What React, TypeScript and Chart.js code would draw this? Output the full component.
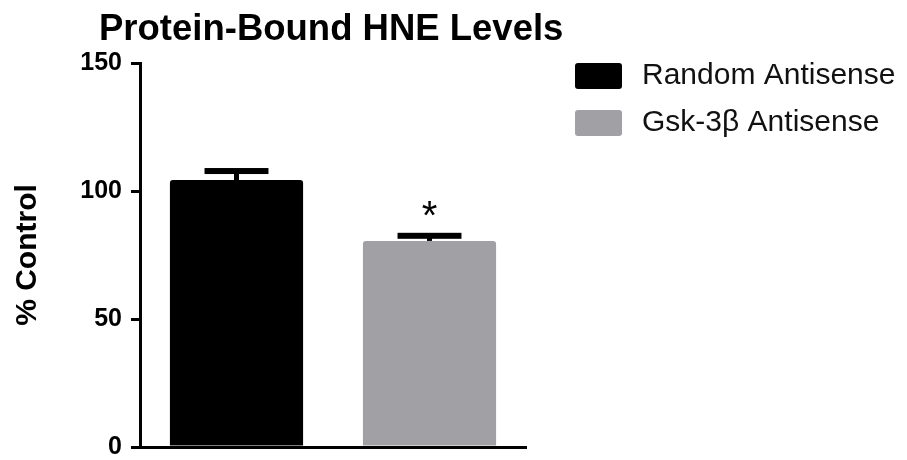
import React, { useEffect, useRef } from 'react';
import { Chart, registerables } from 'chart.js';

Chart.register(...registerables);

const chartTitle = 'Protein-Bound HNE Levels';
const categories = ['Random Antisense', 'Gsk-3β Antisense'];
const means = [104.3, 80.5];
const sems = [3.5, 2.0];
const significance = ['', '*'];
const barColors = ['#000000', '#a1a0a5'];
const yTicks = [0, 50, 100, 150];
const yLabel = '% Control';

const FONT = "'Liberation Sans', Arial, Helvetica, sans-serif";

const overlayPlugin = {
  id: 'overlay',
  afterDatasetsDraw(chart: any) {
    const ctx = chart.ctx;
    const yScale = chart.scales.y;
    ctx.save();
    categories.forEach((_, i) => {
      const meta = chart.getDatasetMeta(i);
      const bar: any = meta.data[i];
      if (!bar) return;
      const x = bar.x;
      const yTop = yScale.getPixelForValue(means[i]);
      const yErr = yScale.getPixelForValue(means[i] + sems[i]);
      const capW = bar.width * 0.48;
      ctx.fillStyle = '#000';
      // stem
      ctx.fillRect(x - 2.5, yErr, 5, yTop - yErr);
      // cap
      ctx.fillRect(x - capW / 2, yErr - 3, capW, 6);
      if (significance[i]) {
        ctx.font = `40px ${FONT}`;
        ctx.textAlign = 'center';
        ctx.textBaseline = 'middle';
        ctx.fillText(significance[i], x, yErr - 18);
      }
    });
    ctx.restore();
  },
  afterDraw(chart: any) {
    const ctx = chart.ctx;
    ctx.save();
    // title
    ctx.fillStyle = '#000';
    ctx.font = `bold 36.5px ${FONT}`;
    ctx.textAlign = 'left';
    ctx.textBaseline = 'alphabetic';
    ctx.fillText(chartTitle, 99, 40);
    // legend
    categories.forEach((c, i) => {
      const bx = 575;
      const by = 63 + i * 47;
      ctx.fillStyle = barColors[i];
      ctx.beginPath();
      (ctx as any).roundRect ? (ctx as any).roundRect(bx, by, 47, 26, 3) : ctx.rect(bx, by, 47, 26);
      ctx.fill();
      ctx.fillStyle = '#111';
      ctx.font = `30px ${FONT}`;
      ctx.textAlign = 'left';
      ctx.textBaseline = 'middle';
      ctx.fillText(c, 642, by + 13);
    });
    ctx.restore();
  },
};

export default function App() {
  const canvasRef = useRef<HTMLCanvasElement | null>(null);

  useEffect(() => {
    if (!canvasRef.current) return;
    const datasets = categories.map((c, i) => ({
      label: c,
      data: means.map((m, j) => (j === i ? m : null)),
      backgroundColor: barColors[i],
      borderRadius: 3,
      barPercentage: 0.69,
      categoryPercentage: 1.0,
    }));
    const chart = new Chart(canvasRef.current, {
      type: 'bar',
      data: { labels: categories, datasets },
      plugins: [overlayPlugin],
      options: {
        responsive: false,
        animation: false,
        devicePixelRatio: 1,
        skipNull: true,
        layout: { padding: { left: 0, top: 63, right: 381, bottom: 0 } },
        plugins: {
          legend: { display: false },
          title: { display: false },
          tooltip: { enabled: false },
        },
        scales: {
          x: {
            ticks: { display: false },
            grid: { display: false, drawTicks: false },
            border: { display: true, color: '#000', width: 3 },
            afterFit: (s: any) => {
              s.height = 13;
              s.paddingLeft = 0;
              s.paddingRight = 0;
            },
          },
          y: {
            min: yTicks[0],
            max: yTicks[yTicks.length - 1],
            afterBuildTicks: (s: any) => {
              s.ticks = yTicks.map((v) => ({ value: v }));
            },
            ticks: {
              color: '#000',
              font: { family: FONT, size: 25, weight: 'bold' },
              padding: 9,
            },
            grid: {
              drawOnChartArea: false,
              drawTicks: true,
              tickLength: 9,
              color: '#000',
              lineWidth: 3,
            },
            border: { display: true, color: '#000', width: 3 },
            title: {
              display: true,
              text: yLabel,
              color: '#000',
              font: { family: FONT, size: 30, weight: 'bold' },
              padding: { top: 10, bottom: 0 },
            },
            afterFit: (s: any) => {
              s.width = 140;
              s.paddingTop = 0;
              s.paddingBottom = 0;
            },
          },
        },
      } as any,
    });
    return () => chart.destroy();
  }, []);

  return (
    <div style={{ position: 'absolute', left: 0, top: 0, width: 907, height: 460, background: '#fff' }}>
      <canvas ref={canvasRef} width={907} height={460} style={{ display: 'block' }} />
    </div>
  );
}
